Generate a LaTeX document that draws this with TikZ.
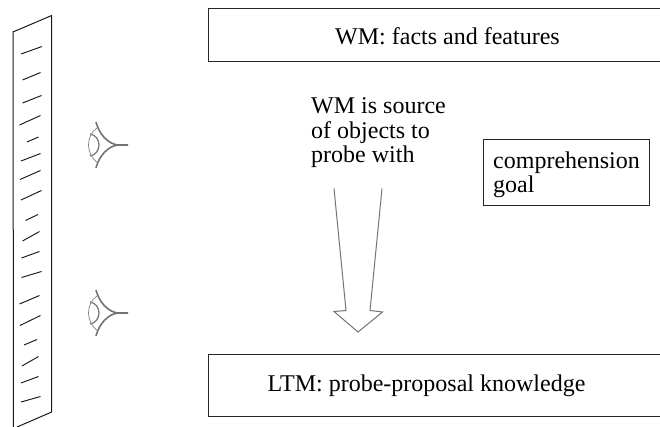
\documentclass[tikz,border=0pt]{standalone}
\usepackage{fontspec}
\setmainfont{Liberation Serif}
\begin{document}
\begin{tikzpicture}[x=1pt,y=-1pt,
  boxed/.style={draw=black!85,line width=1pt,inner sep=0pt,anchor=north west,minimum height=#1},
  label/.style={font=\fontsize{24}{24.5}\selectfont,align=left,inner sep=0pt,anchor=base west},
  tick/.style={draw=black!90,line width=0.95pt},
  rim/.style={draw=black!90,line width=1pt},
  eyeb/.style={draw=black!55,line width=1.6pt},
  eyet/.style={draw=black!50,line width=0.7pt},
  arrowl/.style={draw=black!55,line width=1pt,line join=miter}]
\useasboundingbox (0,0) rectangle (660,427);
\clip (0,0) rectangle (660,427);
% ruler
\coordinate (rtl) at (13,32);
\coordinate (rtr) at (51.7,15.5);
\coordinate (rbr) at (51.7,412);
\coordinate (rbl) at (17,427);
\coordinate (rbb) at (13.5,427);
\draw[rim] (rbb) -- (rtl) -- (rtr) -- (rbr) -- (rbl);
\foreach \a/\b/\c/\d in {21/54/42/46.5,22.5/80/40.5/72.5,22.5/103/41.5/95.5,19.5/125/40.5/115.5,27/142/38.5/137,21/161/40.5/153.5,20/179.5/40.5/170.5,21/200/41.5/190.5,25.5/220.5/38/214.5,22.5/241/39.5/231.5,21.5/258/39.5/251.5,21.5/277.5/41.5/271.5,19.5/304/39.5/295.5,20/325.5/40.5/315.5,24/345/37/339.5,22/366/38.5/356.5,21/383/38.5/376.5,21/402/40.5/396.5}
  \draw[tick] (\a,\b) -- (\c,\d);
% eyes
\foreach \o in {0,168}{
\begin{scope}[yshift=-\o pt]
\draw[eyeb] (96,122) .. controls (99,134) and (108,144) .. (118,145) -- (128,145);
\draw[eyeb] (96,168) .. controls (99,156) and (108,146) .. (118,145);
\draw[eyeb,line width=1.2pt] (90,134) .. controls (96,135) and (99,140) .. (99,145) .. controls (99,150) and (96,155) .. (90,156);
\draw[eyet] (97,128) .. controls (91,132) and (88.5,139) .. (88.5,145) .. controls (88.5,151) and (91,158) .. (98,163);
\end{scope}}
% boxes (their right sides lie beyond the page edge)
\node[boxed=52.5pt,minimum width=470pt] (wm) at (208,8.5) {};
\node[label] (wmt) at (335,45) {WM: facts and features};
\node[boxed=62pt,minimum width=470pt] (ltm) at (208,354) {};
\node[label] (ltmt) at (267.5,391.5) {LTM: probe-proposal knowledge};
\node[boxed=66pt,minimum width=166pt] (goal) at (482.5,139) {};
\node[label] (goalt) at (493,193) {comprehension\\goal};
\node[label] (src) at (311,163) {WM is source\\of objects to\\probe with};
% arrow
\coordinate (a1) at (334,188.5);
\coordinate (a2) at (346,310.5);
\coordinate (a3) at (334,311.5);
\coordinate (a4) at (358,332);
\coordinate (a5) at (382.5,312);
\coordinate (a6) at (370,310.5);
\coordinate (a7) at (382,188.5);
\draw[arrowl] (a1) -- (a2) -- (a3) -- (a4) -- (a5) -- (a6) -- (a7);
\end{tikzpicture}
\end{document}
